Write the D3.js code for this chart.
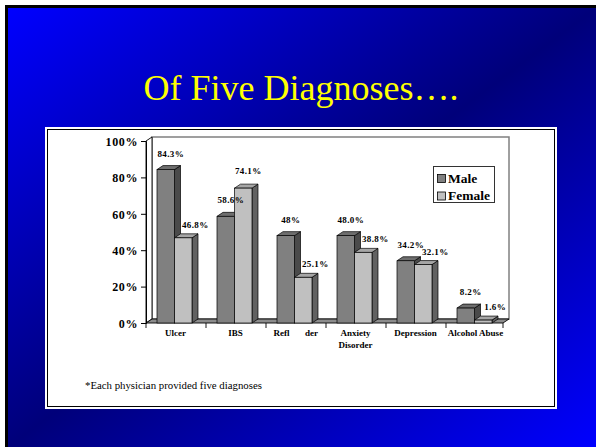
<!DOCTYPE html>
<html>
<head>
<meta charset="utf-8">
<script src="https://cdn.jsdelivr.net/npm/d3@7"></script>
<style>
  html, body { margin: 0; padding: 0; background: #ffffff; }
  svg { display: block; }
  svg text { font-family: "Liberation Serif", "Times New Roman", "DejaVu Serif", serif; }
</style>
</head>
<body>
<svg id="chart" width="596" height="447"></svg>
<script>
// ---- data ----
const categories = ["Ulcer", "IBS", "Reflux Disorder", "Anxiety Disorder", "Depression", "Alcohol Abuse"];
const maleValues = [84.3, 58.6, 48, 48.0, 34.2, 8.2];
const femaleValues = [46.8, 74.1, 25.1, 38.8, 32.1, 1.6];
const maleLabels = ["84.3%", "58.6%", "48%", "48.0%", "34.2%", "8.2%"];
const femaleLabels = ["46.8%", "74.1%", "25.1%", "38.8%", "32.1%", "1.6%"];
const yTicks = [0, 20, 40, 60, 80, 100];
const seriesNames = ["Male", "Female"];
const titleText = "Of Five Diagnoses\u2026.";
const footnoteText = "*Each physician provided five diagnoses";

// ---- styles ----
const colors = {
  Male: { front: "#808080", side: "#4a4a4a", top: "#6e6e6e" },
  Female: { front: "#c0c0c0", side: "#616161", top: "#a6a6a6" }
};

const svg = d3.select("#chart");

// background slide
const defs = svg.append("defs");
const grad = defs.append("linearGradient").attr("id", "bg")
  .attr("x1", 0).attr("y1", 0).attr("x2", 1).attr("y2", 1);
grad.append("stop").attr("offset", 0).attr("stop-color", "#0000ff");
grad.append("stop").attr("offset", 0.5).attr("stop-color", "#00007a");
grad.append("stop").attr("offset", 1).attr("stop-color", "#0000ff");

svg.append("rect").attr("x", 5).attr("y", 5).attr("width", 591).attr("height", 442).attr("fill", "#000");
svg.append("rect").attr("x", 8).attr("y", 8).attr("width", 588).attr("height", 439).attr("fill", "url(#bg)");

// title
svg.append("text")
  .attr("x", 301).attr("y", 100)
  .attr("text-anchor", "middle")
  .style("font-size", "36px")
  .attr("fill", "#ffff00")
  .text(titleText);

// chart panel
svg.append("rect").attr("x", 45).attr("y", 127).attr("width", 512).attr("height", 282).attr("fill", "#fff");
svg.append("rect").attr("x", 47.5).attr("y", 129.5).attr("width", 507).attr("height", 277)
  .attr("fill", "none").attr("stroke", "#000").attr("stroke-width", 1);

// scales
const y = d3.scaleLinear().domain([0, 100]).range([323, 141]);
const x = d3.scaleBand().domain(categories).range([146, 506]).paddingInner(0).paddingOuter(0);
const dx = 6, dy = -4;
const barW = 17.5, barOffset = 11;
const x0 = x.range()[0];
const xEnd = x.range()[1] - 3;

const g = svg.append("g");

// back wall
g.append("rect")
  .attr("x", x0 + dx).attr("y", y(100) + dy)
  .attr("width", xEnd - x0).attr("height", y(0) - y(100))
  .attr("fill", "#fff").attr("stroke", "#808080").attr("stroke-width", 1.5);

// left side wall
g.append("polygon")
  .attr("points", [[x0, y(100)], [x0 + dx, y(100) + dy], [x0 + dx, y(0) + dy], [x0, y(0)]].map(p => p.join(",")).join(" "))
  .attr("fill", "#fff").attr("stroke", "#000").attr("stroke-width", 0.9);

// floor
g.append("polygon")
  .attr("points", [[x0, y(0)], [xEnd, y(0)], [xEnd + dx, y(0) + dy], [x0 + dx, y(0) + dy]].map(p => p.join(",")).join(" "))
  .attr("fill", "#8c8c8c").attr("stroke", "#000").attr("stroke-width", 0.9);

// y axis
const yAxis = d3.axisLeft(y).tickValues(yTicks).tickSize(5).tickPadding(3).tickFormat(d => d + "%");
const ya = g.append("g").attr("transform", `translate(${x0},0)`).call(yAxis);
ya.attr("font-family", null).attr("font-size", null);
ya.select(".domain").attr("stroke", "#000");
ya.selectAll(".tick line").attr("stroke", "#000");
ya.selectAll(".tick text")
  .style("font-size", "12px").style("font-weight", "bold")
  .attr("letter-spacing", 0.6).attr("fill", "#000").attr("dy", "0.36em");

// x category tick marks
const boundaries = categories.map(c => x(c)).concat([xEnd]);
g.selectAll(".xtick").data(boundaries).join("line")
  .attr("x1", d => d).attr("x2", d => d)
  .attr("y1", y(0)).attr("y2", y(0) + 5)
  .attr("stroke", "#000").attr("stroke-width", 0.9);

// bars
function drawBar(sel, bx, v, c) {
  const yt = y(v), yb = y(0);
  sel.append("polygon")
    .attr("points", [[bx + barW, yt], [bx + barW + dx, yt + dy], [bx + barW + dx, yb + dy], [bx + barW, yb]].map(p => p.join(",")).join(" "))
    .attr("fill", c.side).attr("stroke", "#000").attr("stroke-width", 0.7);
  sel.append("polygon")
    .attr("points", [[bx, yt], [bx + dx, yt + dy], [bx + barW + dx, yt + dy], [bx + barW, yt]].map(p => p.join(",")).join(" "))
    .attr("fill", c.top).attr("stroke", "#000").attr("stroke-width", 0.7);
  sel.append("rect")
    .attr("x", bx).attr("y", yt).attr("width", barW).attr("height", yb - yt)
    .attr("fill", c.front).attr("stroke", "#000").attr("stroke-width", 0.7);
}

const bars = g.append("g");
categories.forEach((cat, i) => {
  const bxM = x(cat) + barOffset;
  const bxF = bxM + barW;
  drawBar(bars, bxM, maleValues[i], colors.Male);
  drawBar(bars, bxF, femaleValues[i], colors.Female);
});

// value labels
const labels = g.append("g")
  .style("font-size", "9px").style("font-weight", "bold")
  .attr("letter-spacing", 0.4).attr("text-anchor", "middle").attr("fill", "#000");
categories.forEach((cat, i) => {
  const bxM = x(cat) + barOffset;
  const bxF = bxM + barW;
  labels.append("text")
    .attr("x", bxM + barW / 2 + 5).attr("y", y(maleValues[i]) + dy - 9)
    .text(maleLabels[i]);
  const lower = femaleValues[i] < maleValues[i];
  labels.append("text")
    .attr("x", bxF + barW / 2 + (lower ? 12 : 5)).attr("y", y(femaleValues[i]) + dy - (lower ? 6 : 10))
    .text(femaleLabels[i]);
});

// category labels
const catG = g.append("g")
  .style("font-size", "9px").style("font-weight", "bold")
  .attr("text-anchor", "middle").attr("fill", "#000");
categories.forEach((cat, i) => {
  const cx = x(cat) + barOffset + barW + 1;
  if (cat === "Reflux Disorder") {
    // partially hidden label in the original: only "Refl" and "der" are visible
    catG.append("text").attr("x", cx - 14).attr("y", 336).text("Refl");
    catG.append("text").attr("x", cx + 16).attr("y", 336).text("der");
  } else {
    const words = cat === "Anxiety Disorder" ? ["Anxiety", "Disorder"] : [cat];
    words.forEach((w, k) => {
      catG.append("text").attr("x", cx).attr("y", 336 + k * 12).text(w);
    });
  }
});

// legend
const leg = svg.append("g");
leg.append("rect").attr("x", 433.5).attr("y", 166.5).attr("width", 61).attr("height", 36)
  .attr("fill", "#fff").attr("stroke", "#333").attr("stroke-width", 1);
seriesNames.forEach((s, i) => {
  leg.append("rect").attr("x", 437.5).attr("y", 174.5 + i * 17.5).attr("width", 8).attr("height", 8)
    .attr("fill", colors[s].front).attr("stroke", "#000").attr("stroke-width", 0.8);
  leg.append("text").attr("x", 448).attr("y", 182.5 + i * 17.5)
    .style("font-size", "13.5px").style("font-weight", "bold")
    .attr("fill", "#000").text(s);
});

// footnote
svg.append("text")
  .attr("x", 85).attr("y", 389)
  .style("font-size", "10.8px")
  .attr("fill", "#000")
  .text(footnoteText);
</script>
</body>
</html>
